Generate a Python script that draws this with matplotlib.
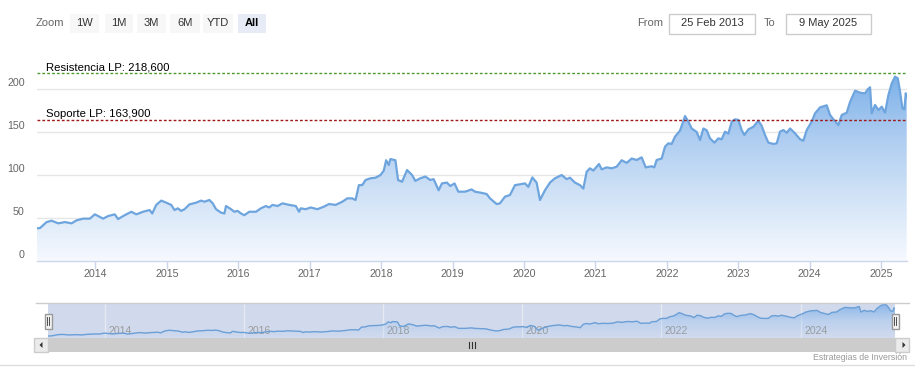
import matplotlib
matplotlib.use("Agg")
import matplotlib.pyplot as plt
import matplotlib.transforms as mtransforms
from matplotlib.colors import LinearSegmentedColormap
from matplotlib.patches import Rectangle, Polygon
from matplotlib.lines import Line2D
import numpy as np

plt.rcParams['font.family'] = ['Liberation Sans', 'DejaVu Sans']

# ---------------- data ----------------
dates = [
    2013.177, 2013.223, 2013.316, 2013.386, 2013.479, 2013.572, 2013.665, 2013.735, 2013.828, 2013.921,
    2013.991, 2014.107, 2014.177, 2014.270, 2014.316, 2014.409, 2014.502, 2014.572, 2014.665, 2014.758,
    2014.795, 2014.851, 2014.921, 2014.991, 2015.060, 2015.107, 2015.153, 2015.200, 2015.247, 2015.316,
    2015.409, 2015.479, 2015.526, 2015.595, 2015.642, 2015.688, 2015.758, 2015.805, 2015.828, 2015.898,
    2015.944, 2015.991, 2016.037, 2016.084, 2016.153, 2016.247, 2016.316, 2016.386, 2016.433, 2016.479,
    2016.549, 2016.619, 2016.712, 2016.805, 2016.851, 2016.874, 2016.944, 2017.014, 2017.107, 2017.200,
    2017.270, 2017.363, 2017.456, 2017.526, 2017.595, 2017.642, 2017.688, 2017.735, 2017.781, 2017.851,
    2017.921, 2017.991, 2018.037, 2018.070, 2018.107, 2018.130, 2018.200, 2018.237, 2018.293, 2018.363,
    2018.433, 2018.479, 2018.549, 2018.619, 2018.688, 2018.735, 2018.805, 2018.851, 2018.921, 2018.967,
    2019.028, 2019.080, 2019.174, 2019.267, 2019.314, 2019.407, 2019.477, 2019.524, 2019.617, 2019.664,
    2019.734, 2019.804, 2019.874, 2019.944, 2020.014, 2020.061, 2020.117, 2020.177, 2020.224, 2020.294,
    2020.364, 2020.434, 2020.528, 2020.598, 2020.644, 2020.714, 2020.784, 2020.831, 2020.878, 2020.924,
    2020.971, 2021.050, 2021.088, 2021.158, 2021.228, 2021.298, 2021.368, 2021.438, 2021.508, 2021.578,
    2021.648, 2021.704, 2021.788, 2021.825, 2021.858, 2021.928, 2021.975, 2022.021, 2022.068, 2022.115,
    2022.185, 2022.255, 2022.302, 2022.348, 2022.418, 2022.465, 2022.512, 2022.558, 2022.605, 2022.666,
    2022.722, 2022.768, 2022.815, 2022.862, 2022.909, 2022.955, 2023.002, 2023.049, 2023.086, 2023.142,
    2023.212, 2023.282, 2023.329, 2023.375, 2023.422, 2023.492, 2023.539, 2023.585, 2023.632, 2023.679,
    2023.726, 2023.796, 2023.866, 2023.912, 2023.959, 2024.029, 2024.076, 2024.146, 2024.239, 2024.286,
    2024.333, 2024.402, 2024.449, 2024.519, 2024.566, 2024.636, 2024.706, 2024.776, 2024.813, 2024.846,
    2024.869, 2024.916, 2024.963, 2025.010, 2025.056, 2025.103, 2025.150, 2025.196, 2025.234, 2025.266,
    2025.299, 2025.327, 2025.346, 2025.359,
]
prices = [
    37.7, 38.0, 45.0, 46.6, 43.5, 45.0, 43.5, 47.0, 49.0, 49.0,
    54.0, 49.0, 52.0, 54.0, 48.5, 53.0, 57.0, 54.0, 57.0, 59.0,
    55.0, 65.0, 70.0, 67.6, 65.0, 59.0, 61.0, 58.0, 60.0, 65.6,
    67.6, 70.0, 68.7, 70.7, 66.8, 60.0, 56.0, 55.0, 63.7, 60.0,
    57.0, 58.0, 55.0, 53.0, 57.0, 57.0, 61.0, 63.7, 62.0, 65.0,
    63.7, 66.8, 65.0, 63.7, 57.0, 61.0, 60.0, 62.0, 60.0, 63.0,
    66.0, 65.0, 68.7, 72.6, 72.6, 70.7, 88.0, 88.0, 94.0, 96.0,
    96.7, 99.8, 105.0, 117.0, 111.5, 118.4, 117.0, 94.0, 92.0, 105.6,
    99.8, 93.0, 96.0, 98.0, 94.0, 95.0, 82.0, 90.0, 91.0, 87.0,
    90.0, 80.4, 80.4, 83.0, 80.4, 79.0, 77.7, 72.6, 66.0, 66.8,
    74.6, 76.5, 88.0, 89.0, 90.0, 86.0, 97.0, 91.0, 70.7, 82.0,
    91.0, 96.0, 99.8, 95.0, 96.7, 91.0, 88.0, 84.0, 103.7, 107.6,
    105.0, 112.6, 106.4, 108.7, 107.6, 109.5, 117.0, 114.0, 119.0, 117.3,
    120.4, 108.7, 110.0, 108.7, 117.3, 119.0, 132.8, 136.7, 136.0, 144.5,
    151.5, 168.5, 162.0, 154.0, 150.0, 140.6, 154.0, 152.0, 142.5, 137.5,
    142.5, 141.4, 150.3, 148.0, 162.0, 164.7, 164.0, 152.0, 146.4, 153.0,
    156.0, 163.0, 157.0, 146.4, 137.5, 136.0, 136.7, 150.3, 152.2, 149.0,
    154.0, 148.3, 141.4, 139.8, 152.2, 162.0, 171.7, 178.6, 181.0, 169.7,
    164.7, 158.0, 169.7, 172.4, 185.0, 198.0, 195.7, 195.0, 199.6, 202.0,
    171.7, 181.4, 175.5, 179.4, 172.4, 193.0, 206.6, 214.4, 212.4, 197.0,
    177.5, 176.3, 195.0, 191.0,
]
year_ticks = list(range(2014, 2026))
nav_year_ticks = [2014, 2016, 2018, 2020, 2022, 2024]
y_ticks = [0, 50, 100, 150, 200]
resistance = 218.6
support = 163.9
resistance_label = "Resistencia LP: 218,600"
support_label = "Soporte LP: 163,900"
range_buttons = ["1W", "1M", "3M", "6M", "YTD", "All"]
selected_button = "All"
from_date = "25 Feb 2013"
to_date = "9 May 2025"
credit = "Estrategias de Inversión"

# ---------------- figure ----------------
W, H = 915, 380
fig = plt.figure(figsize=(W / 100, H / 100), dpi=100)
fig.patch.set_facecolor("white")
PX = mtransforms.Affine2D().scale(1.0 / W, -1.0 / H).translate(0, 1) + fig.transFigure


def px_axes(l, t, r, b):
    return fig.add_axes([l / W, 1 - b / H, (r - l) / W, (b - t) / H])


def off(dx, dy):
    return mtransforms.ScaledTranslation(dx / 100.0, dy / 100.0, fig.dpi_scale_trans)


GREY = "#666666"
grad = np.linspace(0, 1, 256).reshape(-1, 1)

# ---------------- main chart ----------------
L, R, T, B = 36.7, 906.7, 59.0, 260.7
ax = px_axes(L, T, R, B)
x0, x1 = dates[0], dates[-1]
ymax = (B - T) / 0.8585

poly = ax.fill_between(dates, prices, 0, facecolor="none", edgecolor="none")
cmap = LinearSegmentedColormap.from_list("g", ["#f6f9fe", "#d3e4f7", "#aecdf1", "#7db1e9"])
im = ax.imshow(grad, extent=[x0, x1, 0, max(prices)], origin="lower", aspect="auto",
               cmap=cmap, zorder=1, interpolation="bilinear")
im.set_clip_path(poly.get_paths()[0], transform=ax.transData)
ax.plot(dates, prices, color="#6ea5de", lw=1.6, zorder=3, solid_joinstyle="round")

ax.set_xlim(x0, x1)
ax.set_ylim(0, ymax)
for v in y_ticks[1:]:
    ax.axhline(v, color="#e6e6e6", lw=1, zorder=0.5)
for s in ["top", "left", "right"]:
    ax.spines[s].set_visible(False)
ax.spines["bottom"].set_color("#ccd6eb")
ax.spines["bottom"].set_linewidth(1)
ax.spines["bottom"].set_zorder(4)
ax.set_xticks(year_ticks)
ax.set_xticklabels([])
ax.tick_params(axis="x", length=8 * 0.72, width=1, color="#ccd6eb", direction="out")
ax.set_yticks([])
ax.set_facecolor("none")

ytr = ax.get_yaxis_transform()
for v in y_ticks:
    ax.text(0, v, f"{v}", transform=ytr + off(-12, 5.5), ha="right", va="center",
            fontsize=7.7, color=GREY, clip_on=False)
xtr = ax.get_xaxis_transform()
for yr in year_ticks:
    ax.text(yr, 0, f"{yr}", transform=xtr + off(0, -13.6), ha="center", va="center",
            fontsize=7.7, color=GREY, clip_on=False)

ax.axhline(resistance, color="#4e9a2e", lw=1, dashes=(2, 1.5), zorder=5)
ax.axhline(support, color="#9e1a1a", lw=1, dashes=(2, 1.5), zorder=5)
ax.text(0, resistance, resistance_label, transform=ytr + off(9, 2.5), ha="left",
        va="baseline", fontsize=8.2, color="#000000", zorder=6)
ax.text(0, support, support_label, transform=ytr + off(9, 2.5), ha="left",
        va="baseline", fontsize=8.2, color="#000000", zorder=6)

# ---------------- range selector ----------------
fig.text(36, 23.5, "Zoom", transform=PX, ha="left", va="center", fontsize=8, color=GREY)
btn_x = [(70, 99), (105, 133), (137, 166), (170, 199.5), (203, 233), (237.5, 265.5)]
for (bl, br), lab in zip(btn_x, range_buttons):
    sel = lab == selected_button
    fig.add_artist(Rectangle((bl, 14), br - bl, 19, transform=PX,
                             facecolor="#e6ebf5" if sel else "#f7f7f7", edgecolor="none"))
    fig.text((bl + br) / 2, 23.5, lab, transform=PX, ha="center", va="center", fontsize=8,
             color="#000000" if sel else "#333333", fontweight="bold" if sel else "normal")

fig.text(637, 23.5, "From", transform=PX, ha="left", va="center", fontsize=8, color=GREY)
fig.text(764, 23.5, "To", transform=PX, ha="left", va="center", fontsize=8, color=GREY)
for (bl, br), lab in [((669, 755), from_date), ((786, 871), to_date)]:
    fig.add_artist(Rectangle((bl, 13.5), br - bl, 20, transform=PX, facecolor="white",
                             edgecolor="#cccccc", lw=1))
    fig.text((bl + br) / 2, 23.5, lab, transform=PX, ha="center", va="center", fontsize=8,
             color="#333333")

# ---------------- navigator ----------------
NL, NR, NT, NB = 48, 895, 303, 338
nav = px_axes(NL, NT, NR, NB)
nav.set_facecolor("#d1daed")
nav.set_xlim(x0, x1)
nav.set_ylim(26.5, 222.4)
for yr in nav_year_ticks:
    nav.axvline(yr, color="#e4e9f2", lw=1, zorder=1)
    nav.text(yr, 0, f"{yr}", transform=nav.get_xaxis_transform() + off(3.5, 7),
             ha="left", va="center", fontsize=7.6, color="#9a9a9a", zorder=2)
npoly = nav.fill_between(dates, prices, 0, facecolor="none", edgecolor="none")
ncmap = LinearSegmentedColormap.from_list("n", [(0.49, 0.71, 0.93, 0.0), (0.49, 0.71, 0.93, 0.25),
                                               (0.45, 0.66, 0.90, 0.75)])
nim = nav.imshow(grad, extent=[x0, x1, 26.5, max(prices)], origin="lower", aspect="auto",
                 cmap=ncmap, zorder=3, interpolation="bilinear")
nim.set_clip_path(npoly.get_paths()[0], transform=nav.transData)
nav.plot(dates, prices, color="#6b9fd6", lw=1, zorder=4)
nav.set_xlim(x0, x1)
nav.set_ylim(26.5, 222.4)
for s in nav.spines.values():
    s.set_visible(False)
nav.set_xticks([])
nav.set_yticks([])

fig.add_artist(Line2D([36, 909], [302.5, 302.5], transform=PX, color="#cccccc", lw=1))

# handles
for hx in (NL, NR):
    fig.add_artist(Rectangle((hx - 3.5, 313.5), 7, 15, transform=PX, facecolor="#f2f2f2",
                             edgecolor="#999999", lw=1, zorder=5))
    for gx in (hx - 1, hx + 1):
        fig.add_artist(Line2D([gx, gx], [317, 325], transform=PX, color="#333333", lw=0.6,
                              zorder=6))

# scrollbar
ST, SB = 338, 352
fig.add_artist(Rectangle((34, ST), 909 - 34, SB - ST, transform=PX, facecolor="#f2f2f2",
                         edgecolor="none"))
fig.add_artist(Rectangle((NL, ST), NR - NL, SB - ST, transform=PX, facecolor="#cccccc",
                         edgecolor="none"))
for bl, br in ((34, NL), (NR, 909)):
    fig.add_artist(Rectangle((bl, ST), br - bl, SB - ST, transform=PX, facecolor="#ebebeb",
                             edgecolor="#cccccc", lw=1))
fig.add_artist(Polygon([[39.5, 345], [42.5, 342], [42.5, 348]], closed=True, transform=PX,
                       facecolor="#333333", edgecolor="none"))
fig.add_artist(Polygon([[905.5, 345], [902.5, 342], [902.5, 348]], closed=True, transform=PX,
                       facecolor="#333333", edgecolor="none"))
gcx = (NL + NR) / 2
for gx in (gcx - 3, gcx, gcx + 3):
    fig.add_artist(Line2D([gx, gx], [342, 348], transform=PX, color="#333333", lw=0.8))

# credit + bottom rule
fig.text(907, 358, credit, transform=PX, ha="right", va="center", fontsize=6.3, color="#999999")
fig.add_artist(Line2D([0, 915], [364.5, 364.5], transform=PX, color="#dddddd", lw=1))

fig.savefig("out.png", dpi=100, facecolor="white")
